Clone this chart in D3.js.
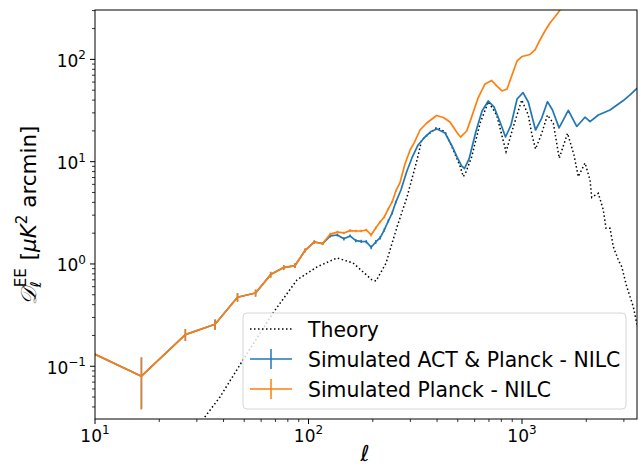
<!DOCTYPE html>
<html><head><meta charset="utf-8">
<script src="https://cdn.jsdelivr.net/npm/d3@7"></script>
<style>
body{margin:0;background:#fff}
svg{display:block}
text{font-family:"DejaVu Sans",sans-serif;fill:#000}
</style>
</head><body>
<svg id="c" width="641" height="466"></svg>
<script>
// ---------- data ----------
const binEll = [6.5,16.5,26.5,36.5,46.5,56.5,66.5,76.5,86.5,96.5,106.5,116.5,126.5,136.5,146.5,156.5,166.5,176.5,186.5,196.5,206.5,216.5,226.5,236.5,246.5,256.5];
const planckBin = [0.20,0.080,0.204,0.257,0.473,0.52,0.787,0.922,0.964,1.36,1.64,1.58,1.96,2.05,2.01,2.12,2.10,2.10,2.15,1.92,2.25,2.57,2.88,3.45,4.04,5.17];
const actBin    = [0.20,0.080,0.204,0.257,0.473,0.52,0.787,0.922,0.964,1.36,1.64,1.58,1.88,1.92,1.76,1.88,1.69,1.66,1.65,1.456,1.64,1.80,2.15,2.63,3.15,4.03];
const binErr    = [0.12,0.042,0.027,0.03,0.045,0.04,0.05,0.05,0.05,0.06,0.06,0.05,0.06,0.06,0.06,0.06,0.06,0.06,0.06,0.06,0.07,0.07,0.08,0.09,0.10,0.12];

const planckHiEll = [268,283,299,312,333,358,398,428,460,494,515,551,581,624,671,721,761,806,851,898,948,1000,1090,1151,1214,1281,1352,1427,1507,1643];
const planckHiVal = [6.19,9.50,13.0,15.2,20.4,23.9,28.3,27.0,24.4,19.5,17.4,19.95,27.4,42.4,57.5,62.2,55.0,49.1,51.4,70.4,96.5,106.7,111.7,123.6,154.8,189.5,226.9,261.5,304,381];

const actHiEll = [271,288,305,326,351,375,400,436,470,496,521,538,565,609,650,695,739,789,837,888,948,1011,1070,1157,1237,1316,1389,1491,1561,1648,1739,1804,1973,2082,2278,2584,2982,3206,3445,3649];
const actHiVal = [5.29,7.93,10.87,14.56,17.43,19.73,20.87,19.08,14.24,11.12,9.08,8.58,10.63,19.95,31.3,39.2,34.3,24.4,17.43,22.8,41.0,47.3,38.3,20.4,26.7,38.6,32.0,21.4,25.6,31.7,25.6,22.1,27.2,24.6,28.6,32.0,39.6,44.9,51.9,57.5];

const theoryEll = [30.0,32.7,38.5,49.3,68.2,88.3,109.6,136,161.6,198.4,207.1,230.7,259.8,289.4,322.3,339,398.6,436,476.7,512.4,530.9,546.7,581.3,635.9,695.5,761.3,797.3,841.7,910.8,996.8,1070,1114,1157,1237,1316,1402,1494,1634,1752,1835,1973,2082,2121,2278,2403,2474,2584,2677,2825,2931,3093,3321,3445,3768];
const theoryVal = [0.0233,0.0319,0.0501,0.115,0.332,0.698,0.935,1.145,1.023,0.698,0.682,1.02,2.30,4.52,10.4,16.3,21.6,19.6,13.0,9.08,7.14,7.93,11.19,23.7,38.6,28.6,19.5,12.5,22.0,40.1,28.6,18.2,13.3,18.95,28.6,23.7,10.8,18.95,11.6,7.13,9.71,6.62,4.47,4.91,3.37,2.23,2.23,1.476,1.094,0.941,0.600,0.382,0.263,0.161];

const xMajor = [10,100,1000];
const xMinor = [20,30,40,50,60,70,80,90,200,300,400,500,600,700,800,900,2000,3000];
const yMajor = [0.1,1,10,100];
const yMinor = [0.04,0.05,0.06,0.07,0.08,0.09,0.2,0.3,0.4,0.5,0.6,0.7,0.8,0.9,2,3,4,5,6,7,8,9,20,30,40,50,60,70,80,90,200,300];
const legendLabels = ["Theory","Simulated ACT & Planck - NILC","Simulated Planck - NILC"];
const colBlue = "#1f77b4", colOrange = "#ff7f0e";

// ---------- layout ----------
const m = {l:95, r:637, t:10, b:419};
const svg = d3.select("#c");
const x = d3.scaleLog().domain([10,3456]).range([m.l,m.r]);
const y = d3.scaleLog().domain([0.0305,304]).range([m.b,m.t]);

svg.append("defs").append("clipPath").attr("id","clip")
  .append("rect").attr("x",m.l).attr("y",m.t).attr("width",m.r-m.l).attr("height",m.b-m.t);

const line = d3.line().x(d=>x(d[0])).y(d=>y(d[1]));
const plot = svg.append("g").attr("clip-path","url(#clip)");

const theory = theoryEll.map((e,i)=>[e,theoryVal[i]]);
const act = binEll.map((e,i)=>[e,actBin[i]]).concat(actHiEll.map((e,i)=>[e,actHiVal[i]]));
const planck = binEll.map((e,i)=>[e,planckBin[i]]).concat(planckHiEll.map((e,i)=>[e,planckHiVal[i]]));

plot.append("path").attr("d",line(theory)).attr("fill","none")
  .attr("stroke","#000").attr("stroke-width",1.5).attr("stroke-dasharray","1.5,2.5");

function series(data, vals, col, errOpacity){
  plot.append("path").attr("d",line(data)).attr("fill","none")
    .attr("stroke",col).attr("stroke-width",1.7).attr("stroke-linejoin","round");
  plot.append("g").selectAll("line").data(binEll).join("line")
    .attr("x1",d=>x(d)).attr("x2",d=>x(d))
    .attr("y1",(d,i)=>y(vals[i]-binErr[i])).attr("y2",(d,i)=>y(vals[i]+binErr[i]))
    .attr("stroke",col).attr("stroke-width",1.5).attr("opacity",errOpacity);
}
series(act, actBin, colBlue, 1);
series(planck, planckBin, colOrange, 0.9);

// ---------- axes ----------
const ax = svg.append("g");
function tick(x1,y1,x2,y2,w){ax.append("line").attr("x1",x1).attr("y1",y1).attr("x2",x2).attr("y2",y2).attr("stroke","#000").attr("stroke-width",w);}
xMajor.forEach(v=>tick(x(v),m.b,x(v),m.b+5,1));
xMinor.forEach(v=>{ if(x(v)<=m.r) tick(x(v),m.b,x(v),m.b+3,0.8);});
yMajor.forEach(v=>tick(m.l,y(v),m.l-5,y(v),1));
yMinor.forEach(v=>{ if(y(v)>=m.t) tick(m.l,y(v),m.l-3,y(v),0.8);});

function powLabel(g, v){
  const e = Math.round(Math.log10(v));
  g.append("tspan").text("10");
  g.append("tspan").attr("font-size",12).attr("dy",-7.5).text(e<0?"\u2212"+(-e):String(e));
}
xMajor.forEach(v=>{
  const t = ax.append("text").attr("x",x(v)).attr("y",441.5).attr("text-anchor","middle").attr("font-size",17);
  powLabel(t,v);
});
yMajor.forEach(v=>{
  const t = ax.append("text").attr("x",86).attr("y",y(v)+7.5).attr("text-anchor","end").attr("font-size",17);
  powLabel(t,v);
});

svg.append("rect").attr("x",m.l).attr("y",m.t).attr("width",m.r-m.l).attr("height",m.b-m.t)
  .attr("fill","none").attr("stroke","#000").attr("stroke-width",1);

// axis labels
svg.append("text").attr("x",365).attr("y",461).attr("text-anchor","middle")
  .attr("font-size",22).attr("font-style","italic").text("\u2113");

const yl = svg.append("text").attr("transform","translate(36,215) rotate(-90)")
  .attr("text-anchor","middle").attr("font-size",21.5);
yl.append("tspan").attr("font-style","italic").text("\uD835\uDC9F");
yl.append("tspan").attr("font-size",15).attr("font-style","italic").attr("dy",5).text("\u2113");
yl.append("tspan").attr("font-size",15).attr("dx",-6).attr("dy",-15).text("EE");
yl.append("tspan").attr("dx",8).attr("dy",10).text("[");
yl.append("tspan").attr("font-style","italic").text("\u03BCK");
yl.append("tspan").attr("font-size",15).attr("dy",-9).text("2");
yl.append("tspan").attr("dy",9).text(" arcmin]");

// ---------- legend ----------
const lg = svg.append("g");
lg.append("rect").attr("x",243).attr("y",313).attr("width",383).attr("height",96).attr("rx",4)
  .attr("fill","#fff").attr("fill-opacity",0.8).attr("stroke","#d6d6d6").attr("stroke-width",1);
const rows = [329,359,389];
lg.append("line").attr("x1",250).attr("x2",292).attr("y1",rows[0]).attr("y2",rows[0])
  .attr("stroke","#000").attr("stroke-width",1.5).attr("stroke-dasharray","1.5,2.5");
[[colBlue,rows[1]],[colOrange,rows[2]]].forEach(([c,ry])=>{
  lg.append("line").attr("x1",250).attr("x2",292).attr("y1",ry).attr("y2",ry).attr("stroke",c).attr("stroke-width",1.7);
  lg.append("line").attr("x1",271).attr("x2",271).attr("y1",ry-10).attr("y2",ry+10).attr("stroke",c).attr("stroke-width",1.5);
});
legendLabels.forEach((s,i)=>{
  lg.append("text").attr("x",308).attr("y",rows[i]+7.5).attr("font-size",20.4).text(s);
});
</script>
</body></html>
